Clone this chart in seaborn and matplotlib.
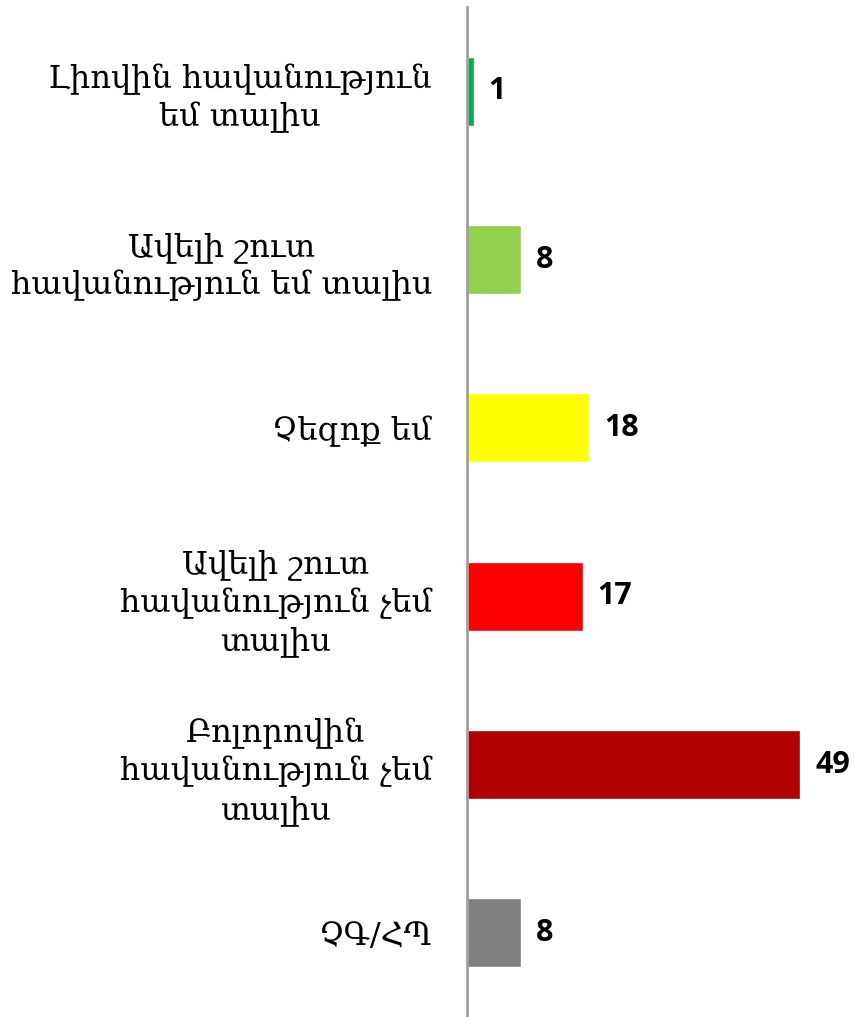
import numpy as np
import pandas as pd
import matplotlib.pyplot as plt
import seaborn as sns

categories = [
    "Լիովին հավանություն\nեմ տալիս",
    "Ավելի շուտ\nհավանություն եմ տալիս",
    "Չեզոք եմ",
    "Ավելի շուտ\nհավանություն չեմ\nտալիս",
    "Բոլորովին\nհավանություն չեմ\nտալիս",
    "ՉԳ/ՀՊ",
]
values = [1, 8, 18, 17, 49, 8]
colors = ["#00B050", "#92D050", "#FFFF00", "#FF0000", "#B00000", "#808080"]

df = pd.DataFrame({"category": categories, "value": values})

sns.set_style("white")
fig = plt.figure(figsize=(8.55, 10.17), dpi=100)
ax = fig.add_axes([0.546, 0.0, 0.438, 0.993])

sns.barplot(data=df, x="value", y="category", hue="category",
            palette=colors, orient="h", width=0.41, legend=False,
            saturation=1, ax=ax)

ax.set_xlim(0, 55)
ax.set_ylim(5.5, -0.5)
ax.set_xlabel("")
ax.set_ylabel("")
ax.set_xticks([])

for side in ["top", "right", "bottom"]:
    ax.spines[side].set_visible(False)
ax.spines["left"].set_color("#A0A0A0")
ax.spines["left"].set_linewidth(2)

ax.tick_params(axis="y", length=0, pad=25, labelcolor="black")
for lbl in ax.get_yticklabels():
    lbl.set_family(["DejaVu Serif", "DejaVu Sans"])
    lbl.set_fontsize(23)
    lbl.set_multialignment("center")
    lbl.set_linespacing(1.3)

for i, v in enumerate(values):
    ax.text(v + 2.2, i, str(v), va="center", ha="left", color="black",
            fontsize=22, fontweight="bold", family="Open Sans")

fig.savefig("out.png", dpi=100)
